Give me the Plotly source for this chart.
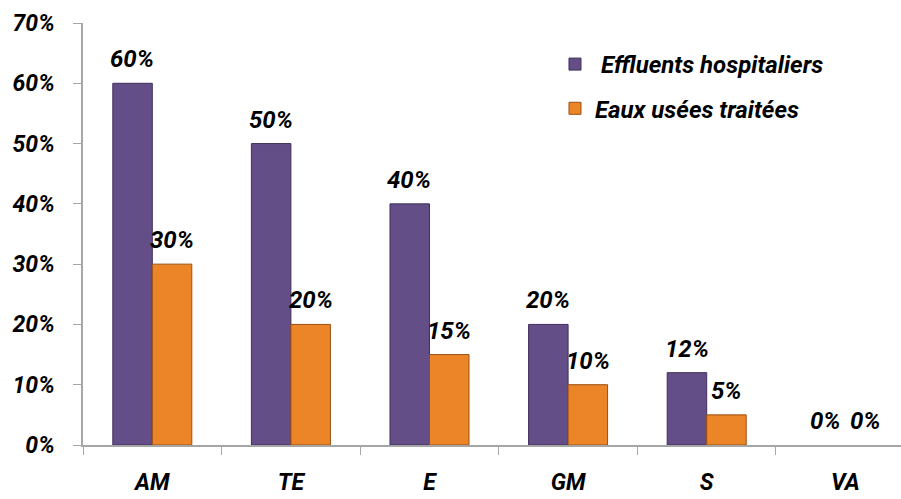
import plotly.graph_objects as go

# Categories and percentage values for the two water sources
categories = ["AM", "TE", "E", "GM", "S", "VA"]
effluents_hospitaliers = [0.60, 0.50, 0.40, 0.20, 0.12, 0.0]
eaux_usees_traitees = [0.30, 0.20, 0.15, 0.10, 0.05, 0.0]
y_ticks = [0.0, 0.1, 0.2, 0.3, 0.4, 0.5, 0.6, 0.7]

series_names = [" Effluents hospitaliers", "Eaux usées traitées"]
colors = ["#644E88", "#EB8528"]
edge_colors = ["#3F2F5A", "#9A4F10"]

FONT = dict(family="Roboto, 'Open Sans', sans-serif", color="#000000",
            weight="bold", style="italic")

fig = go.Figure()
for i, (name, vals, col, edge) in enumerate(zip(
        series_names, [effluents_hospitaliers, eaux_usees_traitees],
        colors, edge_colors)):
    fig.add_trace(go.Bar(
        x=categories, y=vals, name=name, legendgroup=f"g{i}",
        marker=dict(color=col,
                    line=dict(color=edge,
                              width=[1 if v > 0 else 0 for v in vals])),
    ))

# Value labels above each bar
annotations = []
for shift, vals in zip([-20, 20], [effluents_hospitaliers, eaux_usees_traitees]):
    for cat, v in zip(categories, vals):
        annotations.append(dict(
            x=cat, y=v, xref="x", yref="y", text=f"{round(v * 100)}%",
            showarrow=False, xanchor="center", yanchor="bottom",
            xshift=shift, yshift=8, font=dict(size=24, **FONT),
        ))

fig.update_layout(
    width=901, height=499,
    margin=dict(l=83, r=0, t=23, b=54),
    paper_bgcolor="white", plot_bgcolor="white",
    barmode="group", bargap=0.43, bargroupgap=0.0,
    showlegend=True,
    legend=dict(x=0.577, y=0.955, xanchor="left", yanchor="top",
                font=dict(size=24, **FONT), bgcolor="rgba(0,0,0,0)",
                tracegroupgap=10),
    annotations=annotations,
    xaxis=dict(
        range=[-0.5, 5.402], showgrid=False, showline=True,
        linecolor="#A6A6A6", linewidth=1.5, ticks="outside",
        tickson="boundaries", ticklen=8, tickcolor="#A6A6A6",
        ticklabelstandoff=16, tickfont=dict(size=23, **FONT),
        automargin=False,
    ),
    yaxis=dict(
        range=[0, 0.7], tickvals=y_ticks, tickformat=".0%",
        showgrid=False, zeroline=False, showline=True,
        linecolor="#A6A6A6", linewidth=1.5, ticks="outside",
        ticklen=8, tickcolor="#A6A6A6", ticklabelstandoff=14,
        tickfont=dict(size=23, **FONT), automargin=False,
    ),
)

fig.write_html("out.html")
